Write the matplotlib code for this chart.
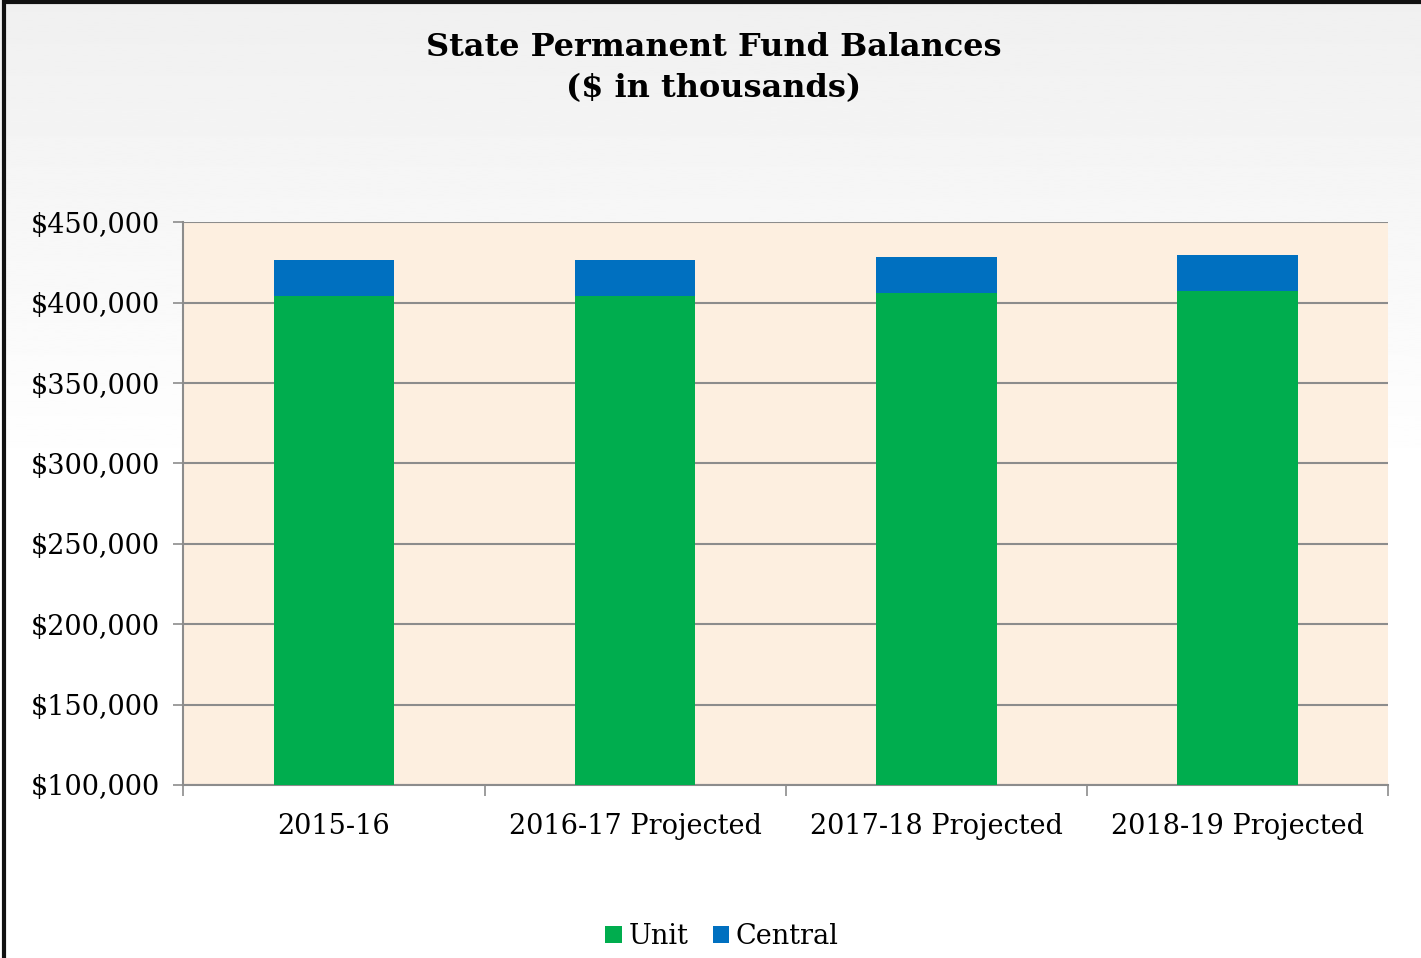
import matplotlib.pyplot as plt
import matplotlib.patches as mpatches
from matplotlib.ticker import FuncFormatter, FixedLocator
import numpy as np

categories = ['2015-16', '2016-17 Projected', '2017-18 Projected', '2018-19 Projected']
unit = [404000, 404000, 405700, 407100]
central = [22600, 22500, 22700, 22800]

plt.rcParams['font.family'] = ['DejaVu Serif']

fig = plt.figure(figsize=(14.21, 9.58), dpi=100)

# light grey gradient at the top of the slide
grad = np.linspace(0.94, 1.0, 256).reshape(-1, 1)
bg = fig.add_axes([0, 0, 1, 1], zorder=-10)
bg.imshow(np.vstack([grad, np.ones((256, 1))]), cmap='gray', vmin=0, vmax=1,
          aspect='auto', extent=[0, 1, 0, 1])
bg.axis('off')

# slide border
fig.add_artist(mpatches.Rectangle((0.003, -0.01), 1.1, 1.008, transform=fig.transFigure,
                                  fill=False, edgecolor='#111111', linewidth=3))

ax = fig.add_axes([0.129, 0.1806, 0.848, 0.5874])
ax.set_facecolor('#FDEFE0')

x = np.arange(len(categories))
ax.bar(x, unit, width=0.4, color='#00AD4E', label='Unit', zorder=3)
ax.bar(x, central, width=0.4, bottom=unit, color='#0070C0', label='Central', zorder=3)

ax.set_ylim(100000, 450000)
ax.set_xlim(-0.5, 3.5)
ax.set_yticks(np.arange(100000, 450001, 50000))
ax.yaxis.set_major_formatter(FuncFormatter(lambda v, p: '${:,.0f}'.format(v)))
ax.yaxis.grid(True, color='#8C8C8C', linewidth=1.5, zorder=0)
ax.set_axisbelow(True)

ax.xaxis.set_major_locator(FixedLocator([-0.5, 0.5, 1.5, 2.5, 3.5]))
ax.set_xticklabels([])
ax.xaxis.set_minor_locator(FixedLocator(x))
ax.set_xticklabels(categories, minor=True)
ax.tick_params(axis='x', which='minor', length=0, pad=20, labelsize=19.5)
ax.tick_params(axis='x', which='major', length=8, width=1.2, color='#8C8C8C')
ax.tick_params(axis='y', length=7, width=1.2, color='#8C8C8C', labelsize=19.5, pad=10)

for s in ['top', 'right']:
    ax.spines[s].set_visible(False)
for s in ['left', 'bottom']:
    ax.spines[s].set_color('#8C8C8C')
    ax.spines[s].set_linewidth(1.5)

fig.text(0.502, 0.967, 'State Permanent Fund Balances\n($ in thousands)', ha='center', va='top',
         fontsize=23, fontweight='bold', linespacing=1.42)

fig.legend(loc='lower center', bbox_to_anchor=(0.508, -0.017), ncol=2, frameon=False,
           fontsize=19.5, handlelength=0.6, handleheight=0.6, handletextpad=0.25, columnspacing=0.9)

fig.savefig('out.png', dpi=100)
